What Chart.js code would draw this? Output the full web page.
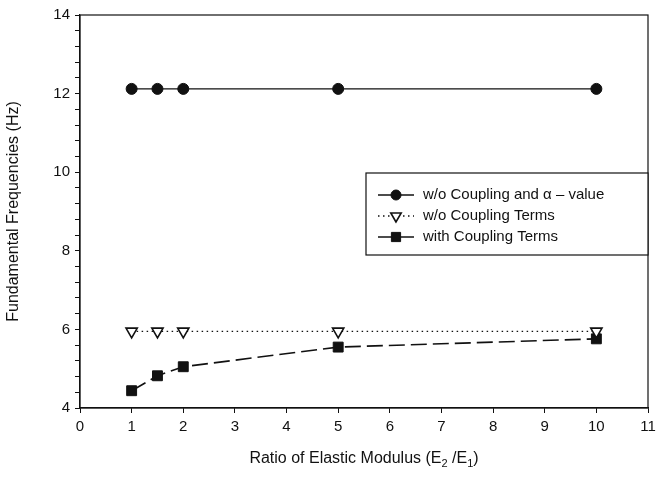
<!DOCTYPE html>
<html>
<head>
<meta charset="utf-8">
<script src="https://cdn.jsdelivr.net/npm/chart.js@4.4.1/dist/chart.umd.min.js"></script>
<style>
  body { margin: 0; background: #fff; }
  #wrap { width: 669px; height: 477px; }
</style>
</head>
<body>
<div id="wrap"><canvas id="freqChart" width="669" height="477"></canvas></div>
<script>
// data
const ratios = [1, 1.5, 2, 5, 10];
const noCouplingAlpha = [12.12, 12.12, 12.12, 12.12, 12.12];
const noCouplingTerms = [5.95, 5.95, 5.95, 5.95, 5.95];
const withCoupling = [4.44, 4.82, 5.05, 5.55, 5.76];
const seriesNames = ['w/o Coupling and \u03b1 \u2013 value', 'w/o Coupling Terms', 'with Coupling Terms'];
const xTicks = [0, 1, 2, 3, 4, 5, 6, 7, 8, 9, 10, 11];
const yTicks = [4, 6, 8, 10, 12, 14];

const FONT = 'Liberation Sans, Arial, Helvetica, sans-serif';
const INK = '#111';

function toPoints(ys) {
    return ratios.map((x, i) => ({ x: x, y: ys[i] }));
}

// box round the plot
const framePlugin = {
    id: 'frame',
    afterDraw(chart) {
        const { ctx, chartArea: a } = chart;
        ctx.save();
        ctx.strokeStyle = INK;
        ctx.lineWidth = 1.2;
        ctx.strokeRect(a.left, a.top, a.right - a.left, a.bottom - a.top);
        ctx.restore();
    }
};

// x title with subscripts
const xTitlePlugin = {
    id: 'xTitle',
    afterDraw(chart) {
        const { ctx, chartArea: a } = chart;
        const parts = [
            ['Ratio of Elastic Modulus (E', 0], ['2', 1], [' /E', 0], ['1', 1], [')', 0]
        ];
        ctx.save();
        ctx.fillStyle = INK;
        ctx.textBaseline = 'alphabetic';
        let total = 0;
        parts.forEach(([t, sub]) => {
            ctx.font = (sub ? 11 : 16) + 'px ' + FONT;
            total += ctx.measureText(t).width;
        });
        let x = (a.left + a.right) / 2 - total / 2;
        const y = a.bottom + 55;
        parts.forEach(([t, sub]) => {
            ctx.font = (sub ? 11 : 16) + 'px ' + FONT;
            ctx.fillText(t, x, sub ? y + 4 : y);
            x += ctx.measureText(t).width;
        });
        ctx.restore();
    }
};

// boxed legend sitting against the right frame
const legendPlugin = {
    id: 'boxLegend',
    afterDraw(chart) {
        const { ctx, chartArea: a } = chart;
        const x0 = 366;
        const y0 = 173;
        const w = a.right - x0;
        const h = 82;
        ctx.save();
        ctx.fillStyle = '#fff';
        ctx.fillRect(x0, y0, w, h);
        ctx.strokeStyle = INK;
        ctx.lineWidth = 1.2;
        ctx.strokeRect(x0, y0, w, h);
        chart.data.datasets.forEach((ds, i) => {
            const cy = y0 + 22 + i * 21;
            const lx = x0 + 12;
            ctx.strokeStyle = INK;
            ctx.lineWidth = ds.borderWidth;
            ctx.setLineDash(i === 1 ? ds.borderDash : []);
            ctx.beginPath();
            ctx.moveTo(lx, cy);
            ctx.lineTo(lx + 36, cy);
            ctx.stroke();
            ctx.setLineDash([]);
            ctx.fillStyle = ds.pointBackgroundColor;
            ctx.strokeStyle = INK;
            ctx.lineWidth = ds.pointBorderWidth;
            Chart.helpers.drawPoint(ctx, {
                pointStyle: ds.pointStyle,
                rotation: ds.pointRotation || 0,
                radius: ds.pointRadius - 0.5,
                borderWidth: ds.pointBorderWidth
            }, lx + 18, cy);
            ctx.fillStyle = INK;
            ctx.font = '15px ' + FONT;
            ctx.textBaseline = 'middle';
            ctx.fillText(seriesNames[i], lx + 45, cy);
        });
        ctx.restore();
    }
};

new Chart(document.getElementById('freqChart'), {
    type: 'line',
    data: {
        datasets: [
            {
                label: seriesNames[0],
                data: toPoints(noCouplingAlpha),
                borderColor: INK,
                borderWidth: 1.4,
                pointStyle: 'circle',
                pointRadius: 5.5,
                pointBorderWidth: 1,
                pointBackgroundColor: INK,
                pointBorderColor: INK
            },
            {
                label: seriesNames[1],
                data: toPoints(noCouplingTerms),
                borderColor: INK,
                borderWidth: 1.3,
                borderDash: [1.5, 3.5],
                pointStyle: 'triangle',
                pointRotation: 180,
                rotation: 180,
                pointRadius: 6.5,
                pointBorderWidth: 1.6,
                pointBackgroundColor: '#fff',
                pointBorderColor: INK
            },
            {
                label: seriesNames[2],
                data: toPoints(withCoupling),
                borderColor: INK,
                borderWidth: 1.6,
                borderDash: [16, 6],
                pointStyle: 'rect',
                pointRadius: 7,
                pointBorderWidth: 1,
                pointBackgroundColor: INK,
                pointBorderColor: INK
            }
        ]
    },
    options: {
        responsive: false,
        animation: false,
        layout: { padding: { top: 15, right: 21, bottom: 0, left: 0 } },
        elements: { line: { tension: 0 } },
        plugins: {
            legend: { display: false },
            tooltip: { enabled: false }
        },
        scales: {
            x: {
                type: 'linear',
                min: 0,
                max: 11,
                afterBuildTicks(scale) {
                    scale.ticks = xTicks.map(v => ({ value: v }));
                },
                afterFit(scale) { scale.height = 69; },
                ticks: {
                    color: INK,
                    font: { family: FONT, size: 15 },
                    padding: 5,
                    maxRotation: 0
                },
                grid: { drawOnChartArea: false, tickLength: 5, color: INK, tickColor: INK },
                border: { color: INK, width: 1.2 }
            },
            y: {
                type: 'linear',
                min: 4,
                max: 14,
                afterBuildTicks(scale) {
                    const t = [];
                    for (let k = 0; k <= 25; k++) t.push({ value: 4 + k * 0.4 });
                    scale.ticks = t;
                },
                afterFit(scale) { scale.width = 80; },
                ticks: {
                    color: INK,
                    font: { family: FONT, size: 15 },
                    padding: 5,
                    autoSkip: false,
                    callback(v) {
                        const r = Math.round(v);
                        return (Math.abs(v - r) < 1e-6 && yTicks.includes(r)) ? String(r) : '';
                    }
                },
                grid: { drawOnChartArea: false, tickLength: 5, color: INK, tickColor: INK },
                border: { color: INK, width: 1.2 },
                title: {
                    display: true,
                    text: 'Fundamental Frequencies (Hz)',
                    color: INK,
                    font: { family: FONT, size: 16 },
                    padding: { bottom: 6 }
                }
            }
        }
    },
    plugins: [framePlugin, xTitlePlugin, legendPlugin]
});
</script>
</body>
</html>
